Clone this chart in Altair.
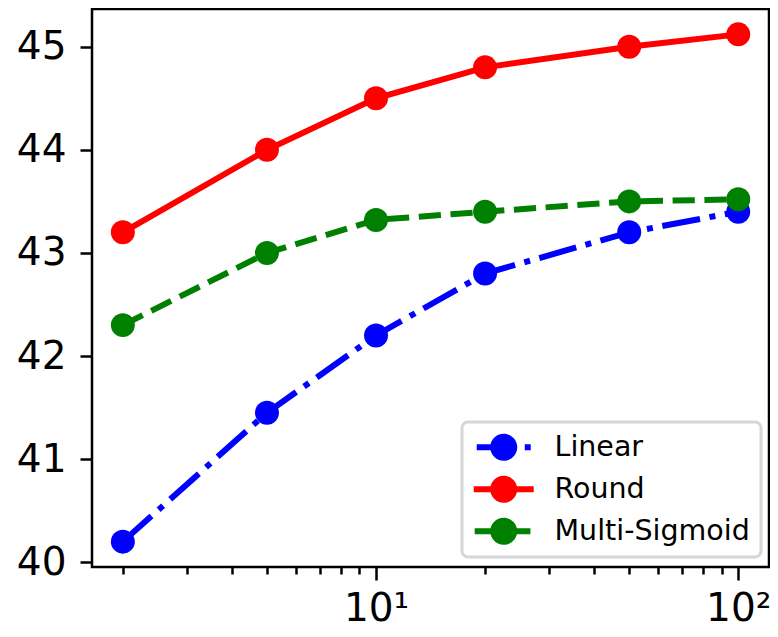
import altair as alt
import pandas as pd

# ---- data ----
x_vals = [2, 5, 10, 20, 50, 100]
linear_vals = [40.2, 41.45, 42.2, 42.8, 43.2, 43.4]
round_vals = [43.2, 44.0, 44.5, 44.8, 45.0, 45.12]
multi_vals = [42.3, 43.0, 43.32, 43.4, 43.5, 43.52]
series_names = ["Linear", "Round", "Multi-Sigmoid"]
series_colors = ["#0000ff", "#ff0000", "#008000"]
y_ticks = [40, 41, 42, 43, 44, 45]
x_ticks = [2, 3, 4, 5, 6, 7, 8, 9, 10, 20, 30, 40, 50, 60, 70, 80, 90, 100]

series_dash = {
    "Linear": [38.4, 9.6, 6, 9.6],
    "Round": None,
    "Multi-Sigmoid": [22.2, 9.6],
}

rows = []
for name, vals in zip(series_names, [linear_vals, round_vals, multi_vals]):
    for x, y in zip(x_vals, vals):
        rows.append({"step": x, "value": y, "series": name})
df = pd.DataFrame(rows)

FONT = "DejaVu Sans"

# legend symbols: line + circle drawn as one custom path (unit = 13.5 px)
circ = "M 0.22,0 A 1,1 0 1,1 2.22,0 A 1,1 0 1,1 0.22,0 Z"
path_round = "M -1,-0.222 L 3.44,-0.222 L 3.44,0.222 L -1,0.222 Z " + circ
path_linear = ("M -0.78,-0.222 L 1.22,-0.222 L 1.22,0.222 L -0.78,0.222 Z "
               "M 2.78,-0.222 L 3.22,-0.222 L 3.22,0.222 L 2.78,0.222 Z " + circ)
path_multi = "M -0.93,-0.222 L 3.2,-0.222 L 3.2,0.222 L -0.93,0.222 Z " + circ
series_paths = [path_linear, path_round, path_multi]

legend = alt.Legend(
    title=None,
    orient="none",
    legendX=370,
    legendY=413,
    padding=11,
    labelFont=FONT,
    labelFontSize=28.5,
    labelColor="black",
    labelOffset=53,
    labelLimit=400,
    symbolSize=729,
    symbolOpacity=1,
    symbolStrokeWidth=0,
    rowPadding=13,
    cornerRadius=6,
    fillColor="white",
    strokeColor="#d6d6d6",
    values=series_names,
)

x_enc = alt.X(
    "step:Q",
    scale=alt.Scale(type="log", domain=[1.644, 121.6], nice=False),
    axis=alt.Axis(
        values=x_ticks,
        labelExpr="datum.value == 10 ? '10¹' : datum.value == 100 ? '10²' : ''",
        tickSize={"condition": {"test": "datum.value == 10 || datum.value == 100", "value": 13}, "value": 7},
        tickWidth=2.5,
        tickColor="black",
        domain=False,
        grid=False,
        title=None,
        labelFont=FONT,
        labelFontSize=39,
        labelColor="black",
        labelPadding=9,
        labelOverlap=False,
        labelFlush=False,
    ),
)

y_enc = alt.Y(
    "value:Q",
    scale=alt.Scale(domain=[39.954, 45.366], nice=False, zero=False),
    axis=alt.Axis(
        values=y_ticks,
        tickSize=12,
        tickWidth=2.5,
        tickColor="black",
        domain=False,
        grid=False,
        title=None,
        labelFont=FONT,
        labelFontSize=39,
        labelColor="black",
        labelPadding=14,
    ),
)

layers = []
for name, col in zip(series_names, series_colors):
    sub = df[df["series"] == name]
    line_kwargs = dict(strokeWidth=6, opacity=1, color=col)
    if series_dash[name] is not None:
        line_kwargs["strokeDash"] = series_dash[name]
    line = alt.Chart(sub).mark_line(**line_kwargs).encode(x=x_enc, y=y_enc)
    pts = alt.Chart(sub).mark_circle(size=575, opacity=1, color=col).encode(x=x_enc, y=y_enc)
    layers += [line, pts]

# invisible layer that only carries the legend (line + marker symbols)
legend_layer = alt.Chart(df).mark_point(filled=True, opacity=0).encode(
    x=x_enc,
    y=y_enc,
    fill=alt.Fill("series:N", scale=alt.Scale(domain=series_names, range=series_colors), legend=legend),
    shape=alt.Shape("series:N", scale=alt.Scale(domain=series_names, range=series_paths), legend=legend),
)
layers.append(legend_layer)

chart = alt.layer(*layers).properties(
    width=677,
    height=558,
    autosize=alt.AutoSizeParams(type="none"),
    padding={"left": 84, "top": 1, "right": 1, "bottom": 62},
    background="white",
).configure_view(
    stroke="black",
    strokeWidth=2.5,
).configure_legend(
    strokeWidth=3,
)

chart.save("out.html", embed_options={"renderer": "svg", "actions": False})
